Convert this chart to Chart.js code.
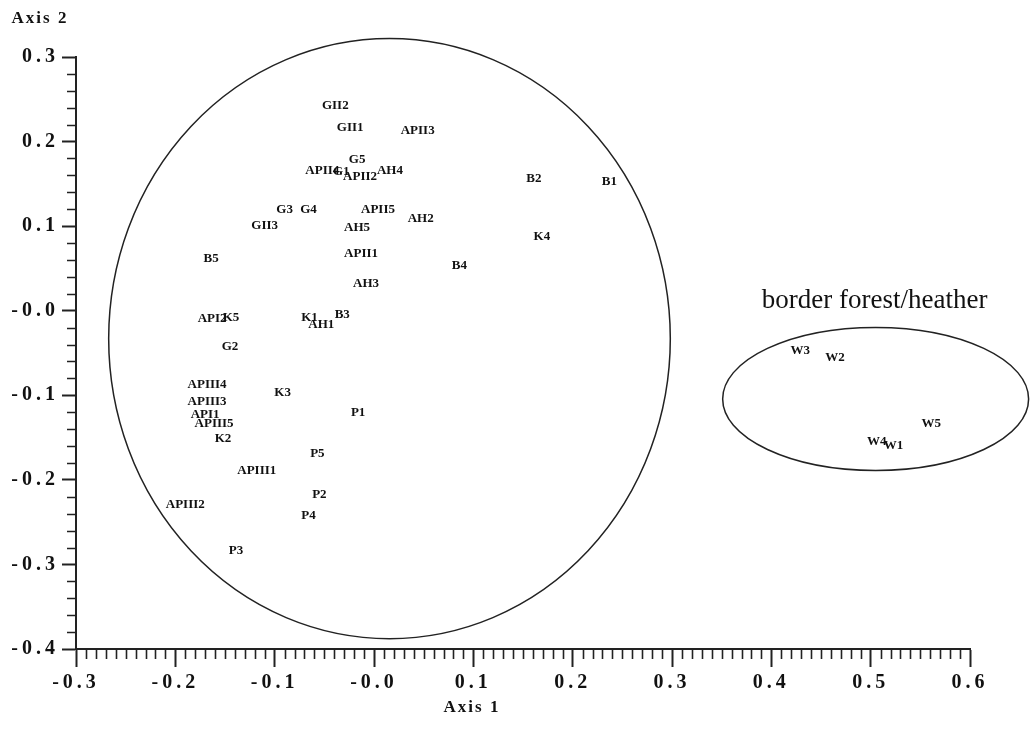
<!DOCTYPE html>
<html>
<head>
<meta charset="utf-8">
<script src="https://cdn.jsdelivr.net/npm/chart.js@4.4.0/dist/chart.umd.min.js"></script>
<style>
    body { margin: 0; background: #fff; }
    #wrap { width: 1030px; height: 747px; }
</style>
</head>
<body>
<div id="wrap"><canvas id="chart1" width="1030" height="747"></canvas></div>
<script>
// sample plots and their ordination scores
const sampleNames = [
    'G1', 'G2', 'G3', 'G4', 'G5',
    'GII1', 'GII2', 'GII3',
    'APII1', 'APII2', 'APII3', 'APII4', 'APII5',
    'AH1', 'AH2', 'AH3', 'AH4', 'AH5',
    'B1', 'B2', 'B3', 'B4', 'B5',
    'K1', 'K2', 'K3', 'K4', 'K5',
    'API1', 'API2',
    'APIII1', 'APIII2', 'APIII3', 'APIII4', 'APIII5',
    'P1', 'P2', 'P3', 'P4', 'P5',
    'W1', 'W2', 'W3', 'W4', 'W5'
];
const axis1Scores = [
    -0.033, -0.145, -0.090, -0.066, -0.017,
    -0.024, -0.039, -0.110,
    -0.013, -0.014, 0.044, -0.052, 0.004,
    -0.053, 0.047, -0.008, 0.016, -0.017,
    0.237, 0.161, -0.032, 0.086, -0.164,
    -0.065, -0.152, -0.092, 0.169, -0.144,
    -0.170, -0.163,
    -0.118, -0.190, -0.168, -0.168, -0.161,
    -0.016, -0.055, -0.139, -0.066, -0.057,
    0.523, 0.464, 0.429, 0.506, 0.561
];
const axis2Scores = [
    0.165, -0.042, 0.119, 0.119, 0.179,
    0.216, 0.242, 0.101,
    0.067, 0.158, 0.213, 0.166, 0.119,
    -0.016, 0.109, 0.032, 0.166, 0.098,
    0.153, 0.156, -0.005, 0.053, 0.061,
    -0.008, -0.151, -0.097, 0.087, -0.008,
    -0.123, -0.009,
    -0.189, -0.229, -0.108, -0.088, -0.134,
    -0.121, -0.217, -0.284, -0.242, -0.169,
    -0.160, -0.056, -0.047, -0.155, -0.134
];

// tick labels
const xTickLabels = ['-0.3', '-0.2', '-0.1', '-0.0', '0.1', '0.2', '0.3', '0.4', '0.5', '0.6'];
const yTickLabels = ['-0.4', '-0.3', '-0.2', '-0.1', '-0.0', '0.1', '0.2', '0.3'];

// group ellipses (centre and radii in axis units)
const ellipseCenterX = [0.0156, 0.505];
const ellipseCenterY = [-0.033, -0.1043];
const ellipseRadiusX = [0.2827, 0.154];
const ellipseRadiusY = [0.3548, 0.0845];

// annotation of the small group
const noteText = 'border forest/heather';
const noteX = 0.504;
const noteY = 0.012;

const serif = '"Liberation Serif", "Times New Roman", serif';

// draws labels, ellipses, minor ticks and axis names
const ordinationExtras = {
    id: 'ordinationExtras',
    beforeDraw(chart) {
        chart.ctx.letterSpacing = '4px';
    },
    beforeDatasetsDraw(chart) {
        chart.ctx.letterSpacing = '0px';
    },
    afterDatasetsDraw(chart) {
        const ctx = chart.ctx;
        const xs = chart.scales.x;
        const ys = chart.scales.y;
        const meta = chart.getDatasetMeta(0);

        ctx.save();
        ctx.letterSpacing = '0px';

        // sample names at the points
        ctx.font = 'bold 13px ' + serif;
        ctx.fillStyle = '#111';
        ctx.textAlign = 'center';
        ctx.textBaseline = 'middle';
        meta.data.forEach((pt, i) => {
            ctx.fillText(sampleNames[i], pt.x, pt.y);
        });

        // ellipses
        ctx.strokeStyle = '#222';
        ctx.lineWidth = 1.5;
        for (let i = 0; i < ellipseCenterX.length; i++) {
            const cx = xs.getPixelForValue(ellipseCenterX[i]);
            const cy = ys.getPixelForValue(ellipseCenterY[i]);
            const rx = Math.abs(xs.getPixelForValue(ellipseCenterX[i] + ellipseRadiusX[i]) - cx);
            const ry = Math.abs(ys.getPixelForValue(ellipseCenterY[i] + ellipseRadiusY[i]) - cy);
            ctx.beginPath();
            ctx.ellipse(cx, cy, rx, ry, 0, 0, Math.PI * 2);
            ctx.stroke();
        }

        // group note
        ctx.font = '27px ' + serif;
        ctx.fillText(noteText, xs.getPixelForValue(noteX), ys.getPixelForValue(noteY));
        ctx.restore();
    },
    afterDraw(chart) {
        const ctx = chart.ctx;
        const xs = chart.scales.x;
        const ys = chart.scales.y;
        ctx.save();
        ctx.strokeStyle = '#222';
        ctx.lineWidth = 1.6;

        // minor ticks on x every 0.01
        ctx.beginPath();
        for (let k = 0; k <= 90; k++) {
            if (k % 10 === 0) continue;
            const px = Math.round(xs.getPixelForValue(xs.min + k * 0.01)) + 0.5;
            ctx.moveTo(px, xs.top);
            ctx.lineTo(px, xs.top + 10);
        }
        // minor ticks on y every 0.02
        for (let k = 0; k <= 35; k++) {
            if (k % 5 === 0) continue;
            const py = Math.round(ys.getPixelForValue(ys.min + k * 0.02)) + 0.5;
            ctx.moveTo(ys.right - 9, py);
            ctx.lineTo(ys.right, py);
        }
        ctx.stroke();

        // axis names
        ctx.fillStyle = '#111';
        ctx.font = 'bold 17px ' + serif;
        ctx.letterSpacing = '2px';
        ctx.textAlign = 'center';
        ctx.textBaseline = 'middle';
        ctx.fillText('Axis 2', 40, 19);
        ctx.fillText('Axis 1', 472, 708);
        ctx.restore();
    }
};

const points = axis1Scores.map((x, i) => ({ x: x, y: axis2Scores[i] }));

const ctx = document.querySelector('#chart1');
const chart = new Chart(ctx, {
    type: 'scatter',
    data: {
        datasets: [{
            label: 'samples',
            data: points,
            pointRadius: 0,
            pointHoverRadius: 0
        }]
    },
    options: {
        responsive: false,
        animation: false,
        events: [],
        layout: { padding: { top: 57, right: 60, left: 0, bottom: 0 } },
        plugins: {
            legend: { display: false },
            tooltip: { enabled: false }
        },
        scales: {
            x: {
                type: 'linear',
                min: -0.3,
                max: 0.6,
                afterFit: scale => { scale.height = 98; },
                ticks: {
                    stepSize: 0.1,
                    padding: 4,
                    color: '#111',
                    font: { family: serif, size: 20, weight: 'bold' },
                    callback: (value, index) => xTickLabels[index]
                },
                grid: {
                    drawOnChartArea: false,
                    tickLength: 18,
                    tickColor: '#222',
                    tickWidth: 2
                },
                border: { color: '#222', width: 2 }
            },
            y: {
                type: 'linear',
                min: -0.4,
                max: 0.3,
                afterFit: scale => { scale.width = 76; },
                ticks: {
                    stepSize: 0.1,
                    padding: 3,
                    color: '#111',
                    font: { family: serif, size: 20, weight: 'bold' },
                    callback: (value, index) => yTickLabels[index]
                },
                grid: {
                    drawOnChartArea: false,
                    tickLength: 14,
                    tickColor: '#222',
                    tickWidth: 2
                },
                border: { color: '#222', width: 2 }
            }
        }
    },
    plugins: [ordinationExtras]
});
</script>
</body>
</html>
